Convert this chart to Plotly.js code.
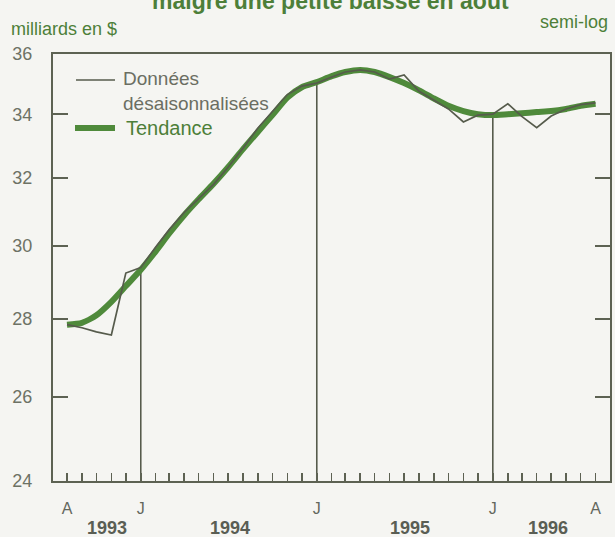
<!DOCTYPE html>
<html>
<head>
<meta charset="utf-8">
<script src="https://cdn.plot.ly/plotly-3.0.1.min.js"></script>
<style>
  html, body { margin: 0; padding: 0; background: #f5f5f2; }
  #chart { width: 615px; height: 537px; }
</style>
</head>
<body>
<div id="chart"></div>
<script>
// ---- Data (monthly, billions of $, semi-log scale) ----
const months = [
  '1993-08-01','1993-09-01','1993-10-01','1993-11-01','1993-12-01',
  '1994-01-01','1994-02-01','1994-03-01','1994-04-01','1994-05-01','1994-06-01',
  '1994-07-01','1994-08-01','1994-09-01','1994-10-01','1994-11-01','1994-12-01',
  '1995-01-01','1995-02-01','1995-03-01','1995-04-01','1995-05-01','1995-06-01',
  '1995-07-01','1995-08-01','1995-09-01','1995-10-01','1995-11-01','1995-12-01',
  '1996-01-01','1996-02-01','1996-03-01','1996-04-01','1996-05-01','1996-06-01',
  '1996-07-01','1996-08-01'
];
const seasonallyAdjusted = [
  27.84, 27.76, 27.65, 27.57, 29.24,
  29.39, 29.97, 30.47, 30.97, 31.39, 31.81,
  32.33, 32.92, 33.56, 34.07, 34.64, 34.92,
  35.02, 35.22, 35.39, 35.46, 35.39, 35.15,
  35.29, 34.75, 34.44, 34.17, 33.75, 33.97,
  34.00, 34.34, 33.93, 33.57, 33.94, 34.17,
  34.31, 34.37
];
const trend = [
  27.84, 27.89, 28.09, 28.45, 28.88,
  29.33, 29.85, 30.36, 30.89, 31.36, 31.83,
  32.33, 32.89, 33.44, 33.97, 34.54, 34.88,
  35.05, 35.25, 35.39, 35.46, 35.39, 35.22,
  35.02, 34.78, 34.51, 34.27, 34.10, 34.00,
  33.97, 34.00, 34.03, 34.07, 34.10, 34.17,
  34.27, 34.34
];
const yTicks = [24, 26, 28, 30, 32, 34, 36];
const monthTickDates = ['1993-08-01','1994-01-01','1995-01-01','1996-01-01','1996-08-01'];
const monthTickText = ['A','J','J','J','A'];
const yearLabels = ['1993','1994','1995','1996'];
const yearLabelDates = ['1993-10-24','1994-07-04','1995-07-13','1996-04-25'];
const seriesNames = ['Données<br>désaisonnalisées', 'Tendance'];

// ---- Style ----
const C_DATA = '#565b4c';
const C_TREND = '#4f8a3b';
const C_AXIS = '#5d6253';
const C_TEXT = '#6d7265';
const C_GREEN_TEXT = '#4d7f39';
const FONT = 'Liberation Sans, Arial, Helvetica, sans-serif';

// plot box in pixels
const L = 53, R = 5, T = 54, B = 56;
const W = 615, H = 537;
const PW = W - L - R, PH = H - T - B;
const px = x => (x - L) / PW;
const py = y => 1 - (y - T) / PH;

// vertical January lines: from axis floor up to the data value
const vx = [], vy = [];
months.forEach((m, i) => {
  if (m.slice(5, 7) === '01') {
    vx.push(m, m, null);
    vy.push(yTicks[0], seasonallyAdjusted[i], null);
  }
});

const traces = [
  { x: vx, y: vy, mode: 'lines', line: { color: C_DATA, width: 1.6 },
    showlegend: false, hoverinfo: 'skip' },
  { x: months, y: trend, mode: 'lines', name: seriesNames[1],
    line: { color: C_TREND, width: 6, shape: 'spline', smoothing: 0.6 } },
  { x: months, y: seasonallyAdjusted, mode: 'lines', name: seriesNames[0],
    line: { color: C_DATA, width: 1.7 } }
];

const layout = {
  width: W, height: H,
  margin: { l: L, r: R, t: T, b: B, pad: 0 },
  paper_bgcolor: '#f5f5f2',
  plot_bgcolor: '#f5f5f2',
  showlegend: false,
  font: { family: FONT, color: C_TEXT, size: 17 },
  xaxis: {
    type: 'date',
    range: ['1993-07-03', '1996-08-31'],
    showgrid: false, zeroline: false,
    showline: true, linecolor: C_AXIS, linewidth: 2, mirror: true,
    ticks: 'inside', ticklen: 8, tickwidth: 1.5, tickcolor: C_AXIS,
    tickvals: monthTickDates, ticktext: monthTickText,
    ticklabelstandoff: 12,
    tickfont: { family: FONT, size: 16, color: '#63675d' },
    minor: { dtick: 'M1', ticks: 'inside', ticklen: 8, tickwidth: 1.5, tickcolor: C_AXIS, showgrid: false }
  },
  yaxis: {
    type: 'log',
    range: [Math.log10(24), Math.log10(36)],
    showgrid: false, zeroline: false,
    showline: true, linecolor: C_AXIS, linewidth: 2, mirror: 'ticks',
    ticks: 'inside', ticklen: 15, tickwidth: 2, tickcolor: C_AXIS,
    tickvals: yTicks, ticktext: yTicks.map(String),
    ticklabelstandoff: 15,
    tickfont: { family: FONT, size: 18, color: C_TEXT }
  },
  shapes: [
    { type: 'line', xref: 'paper', yref: 'paper', x0: px(76), x1: px(115), y0: py(80), y1: py(80),
      line: { color: C_DATA, width: 1.7 } },
    { type: 'line', xref: 'paper', yref: 'paper', x0: px(75), x1: px(115), y0: py(128), y1: py(128),
      line: { color: C_TREND, width: 6 } }
  ],
  annotations: [
    { text: 'malgré une petite baisse en août', xref: 'paper', yref: 'paper',
      x: px(330), y: py(1), xanchor: 'center', yanchor: 'middle', showarrow: false,
      font: { family: FONT, size: 23, color: C_GREEN_TEXT, weight: 'bold' } },
    { text: 'milliards en $', xref: 'paper', yref: 'paper',
      x: px(9), y: py(29), xanchor: 'left', yanchor: 'middle', showarrow: false,
      font: { family: FONT, size: 18, color: C_GREEN_TEXT } },
    { text: 'semi-log', xref: 'paper', yref: 'paper',
      x: px(610), y: py(22), xanchor: 'right', yanchor: 'middle', showarrow: false,
      font: { family: FONT, size: 18, color: C_GREEN_TEXT } },
    { text: 'Données<br>désaisonnalisées', xref: 'paper', yref: 'paper',
      x: px(121), y: py(91), xanchor: 'left', yanchor: 'middle', align: 'left', showarrow: false,
      font: { family: FONT, size: 19, color: '#6b6e62' } },
    { text: 'Tendance', xref: 'paper', yref: 'paper',
      x: px(124), y: py(128), xanchor: 'left', yanchor: 'middle', showarrow: false,
      font: { family: FONT, size: 20, color: C_GREEN_TEXT } }
  ].concat(yearLabels.map((t, i) => ({
      text: t, xref: 'x', yref: 'paper', x: yearLabelDates[i], y: py(528),
      xanchor: 'center', yanchor: 'middle', showarrow: false,
      font: { family: FONT, size: 18, color: '#5a5e54', weight: 'bold' }
  })))
};

Plotly.newPlot('chart', traces, layout, { displayModeBar: false, staticPlot: true });
</script>
</body>
</html>
